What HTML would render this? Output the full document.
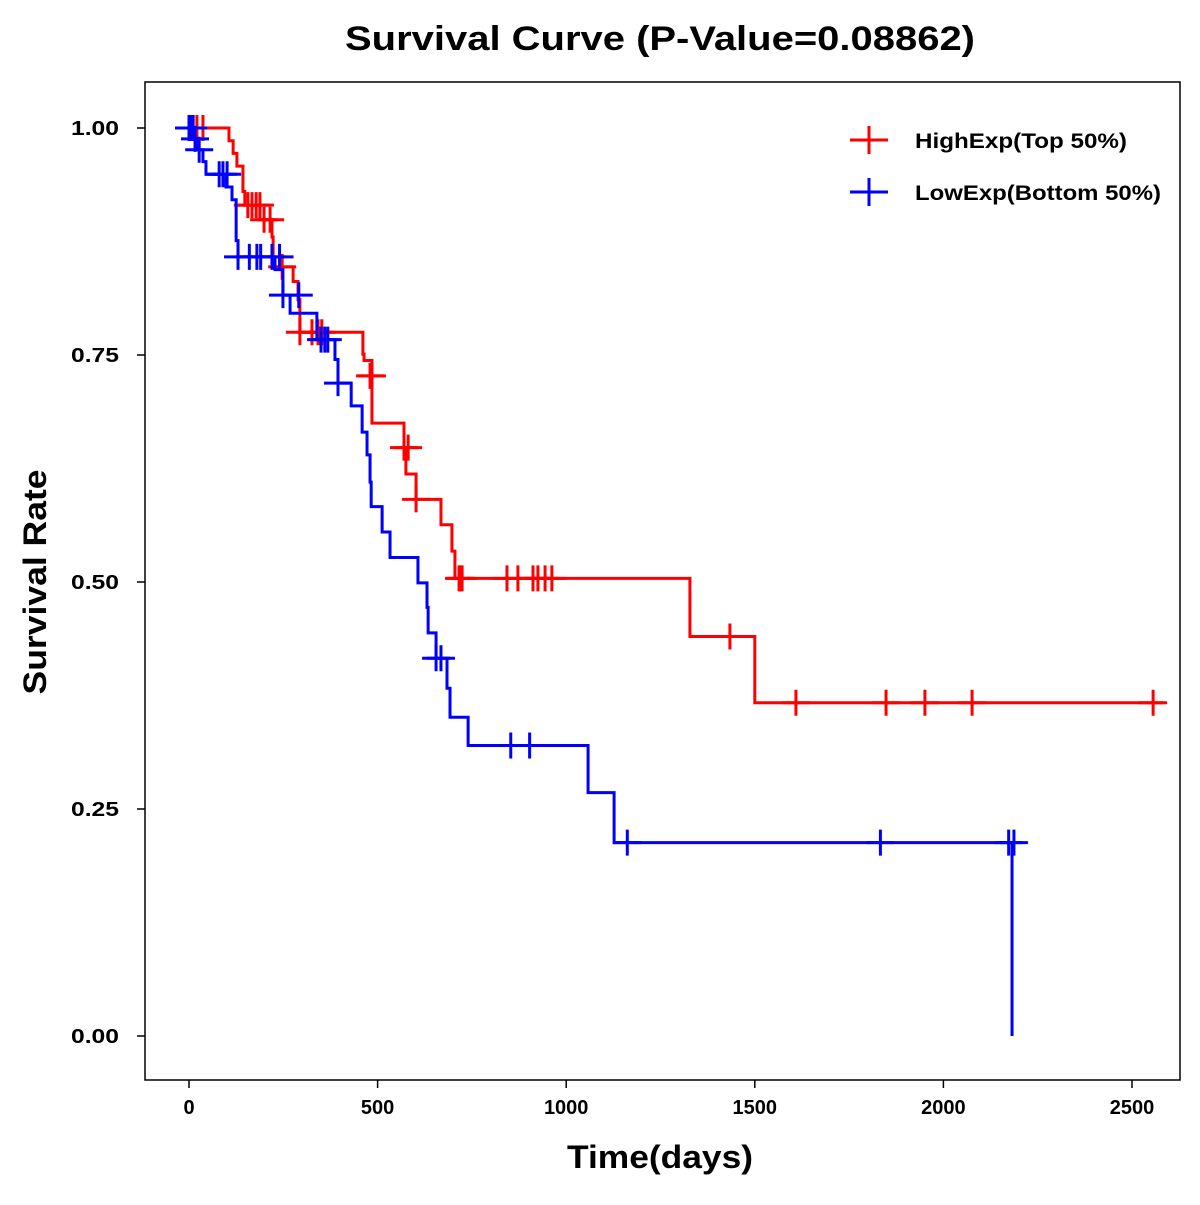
<!DOCTYPE html>
<html><head><meta charset="utf-8"><style>
body{margin:0;background:#fff}
svg text{font-family:"Liberation Sans",Arial,sans-serif;font-weight:bold}
</style></head><body>
<svg id="chart" width="1200" height="1200" xmlns="http://www.w3.org/2000/svg">
<rect x="0" y="0" width="1200" height="1200" fill="#fff"/>
<text x="660" y="50" text-anchor="middle" font-size="34" textLength="630" lengthAdjust="spacingAndGlyphs">Survival Curve (P-Value=0.08862)</text>
<rect x="145" y="82" width="1035" height="998" fill="none" stroke="#000" stroke-width="1.5"/>
<g id="axes"></g>
<g id="series"></g>
<text x="660" y="1168" text-anchor="middle" font-size="32" textLength="186" lengthAdjust="spacingAndGlyphs">Time(days)</text>
<text transform="translate(46,582) rotate(-90)" text-anchor="middle" font-size="32" textLength="225" lengthAdjust="spacingAndGlyphs">Survival Rate</text>
<g>
 <g>
  <line x1="850" y1="140" x2="888" y2="140" stroke="#f00" stroke-width="3"/>
  <line x1="869" y1="126" x2="869" y2="154" stroke="#f00" stroke-width="3"/>
  <text x="915" y="148" font-size="21" textLength="212" lengthAdjust="spacingAndGlyphs">HighExp(Top 50%)</text>
 </g>
 <g>
  <line x1="850" y1="192" x2="888" y2="192" stroke="#00f" stroke-width="3"/>
  <line x1="869" y1="178" x2="869" y2="206" stroke="#00f" stroke-width="3"/>
  <text x="915" y="200" font-size="21" textLength="246" lengthAdjust="spacingAndGlyphs">LowExp(Bottom 50%)</text>
 </g>
</g>
</svg>
<script>
const xTicks=[0,500,1000,1500,2000,2500];
const yTicks=[0,0.25,0.5,0.75,1.0];
const yTickLabels=["0.00","0.25","0.50","0.75","1.00"];
const highTimes=[106,117,127,143,148,188,220,223,276,289,294,461,464,485,570,575,602,668,697,705,1328,1500];
const highSurv=[0.986,0.972,0.958,0.930,0.915,0.899,0.880,0.847,0.831,0.811,0.775,0.751,0.744,0.675,0.648,0.619,0.591,0.563,0.534,0.504,0.440,0.367];
const highEnd=2582;
const highCensorT=[8,21,37,156,167,178,188,199,215,247,294,326,342,352,480,485,570,581,602,716,719,724,843,872,912,925,944,962,1434,1609,1848,1951,2076,2556];
const highCensorS=[1,1,1,0.915,0.915,0.915,0.915,0.899,0.899,0.847,0.775,0.775,0.775,0.775,0.727,0.727,0.648,0.648,0.591,0.504,0.504,0.504,0.504,0.504,0.504,0.504,0.504,0.504,0.440,0.367,0.367,0.367,0.367,0.367];
const lowTimes=[11,21,37,45,98,114,125,130,228,249,268,339,387,395,430,459,472,480,483,512,533,607,631,634,655,684,692,740,1058,1127,2182];
const lowSurv=[0.988,0.976,0.963,0.949,0.935,0.921,0.876,0.858,0.844,0.816,0.796,0.767,0.745,0.719,0.694,0.665,0.640,0.610,0.583,0.555,0.527,0.499,0.472,0.444,0.416,0.383,0.351,0.320,0.268,0.213,0];
const lowEnd=2182;
const lowCensorT=[0,5,11,16,27,80,90,101,130,160,180,190,220,240,249,291,350,360,368,395,655,668,853,903,1162,1833,2173,2187];
const lowCensorS=[1,1,1,0.988,0.976,0.949,0.949,0.949,0.858,0.858,0.858,0.858,0.858,0.858,0.816,0.816,0.767,0.767,0.767,0.719,0.416,0.416,0.320,0.320,0.213,0.213,0.213,0.213];

const NS="http://www.w3.org/2000/svg";
const X=t=>189+t*(943/2500);
const Y=s=>1036-s*908;
function mk(tag,attrs,parent){const e=document.createElementNS(NS,tag);for(const k in attrs)e.setAttribute(k,attrs[k]);parent.appendChild(e);return e;}
const axes=document.getElementById('axes');
xTicks.forEach(v=>{
 const g=mk('g',{},axes);
 
 
 mk('line',{x1:X(v),x2:X(v),y1:1080,y2:1088,stroke:'#000','stroke-width':1.5},g);
 const t=mk('text',{x:X(v),y:1114,'text-anchor':'middle','font-size':20},g);t.textContent=v;
});
yTicks.forEach((v,i)=>{
 const g=mk('g',{},axes);
 
 
 mk('line',{x1:137,x2:145,y1:Y(v),y2:Y(v),stroke:'#000','stroke-width':1.5},g);
 const t=mk('text',{x:119,y:Y(v)+7,'text-anchor':'end','font-size':20,textLength:48,lengthAdjust:'spacingAndGlyphs'},g);t.textContent=yTickLabels[i];
});
const series=document.getElementById('series');
function draw(name,color,times,surv,end,ct,cs){
 const g=mk('g',{},series);
 
 
 let d='M'+X(0)+','+Y(1);
 times.forEach((t,i)=>{d+=' H'+X(t)+' V'+Y(surv[i]);});
 d+=' H'+X(end);
 const p=mk('path',{d:d,fill:'none',stroke:color,'stroke-width':3},g);
 
 
 ct.forEach((t,i)=>{
  const c=mk('path',{d:'M'+(X(t)-14)+','+Y(cs[i])+' H'+(X(t)+14)+' M'+X(t)+','+(Y(cs[i])-13)+' V'+(Y(cs[i])+13),stroke:color,'stroke-width':3,fill:'none'},g);
  
  
 });
}
draw('high-exp','#f00',highTimes,highSurv,highEnd,highCensorT,highCensorS);
draw('low-exp','#00f',lowTimes,lowSurv,lowEnd,lowCensorT,lowCensorS);
</script>
</body></html>
